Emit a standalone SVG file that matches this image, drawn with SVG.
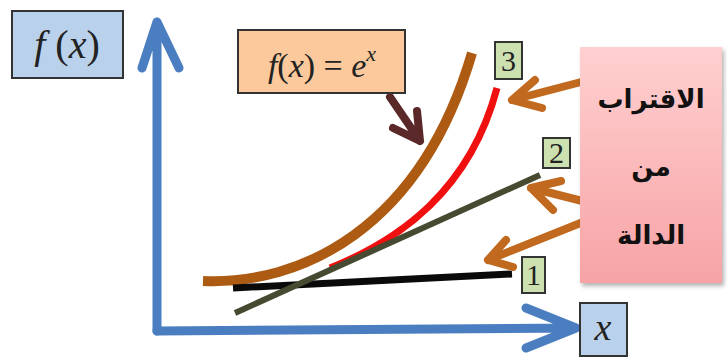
<svg xmlns="http://www.w3.org/2000/svg" width="727" height="361" viewBox="0 0 727 361">
<defs>
<linearGradient id="pink" x1="0" y1="0" x2="0" y2="1">
<stop offset="0" stop-color="#ffd0d0"/>
<stop offset="1" stop-color="#f7a3a6"/>
</linearGradient>
<filter id="sh" x="-10%" y="-10%" width="130%" height="130%">
<feDropShadow dx="2" dy="3" stdDeviation="2" flood-color="#000" flood-opacity="0.3"/>
</filter>
</defs>
<style>
.axis{fill:none;stroke:#4a7ec0;stroke-width:9;stroke-linecap:round;stroke-linejoin:round}
.oarr{fill:none;stroke:#c0691f;stroke-width:8;stroke-linecap:round;stroke-linejoin:round}
.lbl{fill:#cde0b0;stroke:#333;stroke-width:2}
.num{font-family:"Liberation Serif",serif;font-size:30px;fill:#222;text-anchor:middle}
.math{font-family:"Liberation Serif",serif;fill:#222}
.ar{font-family:"DejaVu Sans","Noto Sans",sans-serif;font-weight:bold;font-size:26px;fill:#111;text-anchor:middle}
</style>
<rect width="727" height="361" fill="#fff"/>
<g id="connectors">
<path class="axis" d="M157,331 L157,22 M142,68 L157,22 L179,68"/>
<path class="axis" d="M157,331 L576,328 M526,308 L576,328 L526,348"/>
<path d="M203,281 C300,285 420,230 472,53" fill="none" stroke="#ad5a12" stroke-width="10"/>
<path d="M330,268 C400,240 470,190 497,88" fill="none" stroke="#f01010" stroke-width="7"/>
<line x1="233" y1="288" x2="512" y2="274" stroke="#0a0a0a" stroke-width="7"/>
<line x1="235" y1="313" x2="540" y2="175" stroke="#454a30" stroke-width="6"/>
<path d="M390,97 L420,141 M417,111 L420,141 L393,128" fill="none" stroke="#5a2828" stroke-width="8" stroke-linecap="round" stroke-linejoin="round"/>
<path class="oarr" d="M585,81 L512,100 M535,80 L512,100 L542,108"/>
<path class="oarr" d="M598,205 L531,188 M561,181 L531,188 L553,210"/>
<path class="oarr" d="M583,222 L488,260 M506,240 L488,260 L513,267"/>
</g>
<g id="fx-label">
<rect x="12" y="11" width="111" height="67" fill="#b9d1ea" stroke="#333" stroke-width="2"/>
<text class="math" x="67" y="58" font-size="40" text-anchor="middle"><tspan font-style="italic">f</tspan> (<tspan font-style="italic">x</tspan>)</text>
</g>
<g id="func-label">
<rect x="238" y="30" width="167" height="63" fill="#fbc99c" stroke="#333" stroke-width="2"/>
<text class="math" x="322" y="77" font-size="34" text-anchor="middle"><tspan font-style="italic">f</tspan>(<tspan font-style="italic">x</tspan>) = <tspan font-style="italic">e</tspan><tspan font-style="italic" font-size="22" dy="-16">x</tspan></text>
</g>
<g id="x-label">
<rect x="580" y="303" width="47" height="53" fill="#b9d1ea" stroke="#333" stroke-width="2"/>
<text class="math" x="603" y="340" font-size="38" font-style="italic" text-anchor="middle">x</text>
</g>
<g id="label-3">
<rect class="lbl" x="495" y="42" width="27" height="37"/>
<text class="num" x="508.5" y="71">3</text>
</g>
<g id="label-2">
<rect class="lbl" x="543" y="138" width="27" height="30"/>
<text class="num" x="556.5" y="163">2</text>
</g>
<g id="label-1">
<rect class="lbl" x="522" y="257" width="23" height="36"/>
<text class="num" x="533.5" y="285">1</text>
</g>
<g id="approx-box">
<rect x="580" y="47" width="142" height="236" fill="url(#pink)" filter="url(#sh)"/>
<text class="ar" x="651" y="108" direction="rtl">الاقتراب</text>
<text class="ar" x="651" y="176" direction="rtl">من</text>
<text class="ar" x="651" y="244" direction="rtl">الدالة</text>
</g>
</svg>
